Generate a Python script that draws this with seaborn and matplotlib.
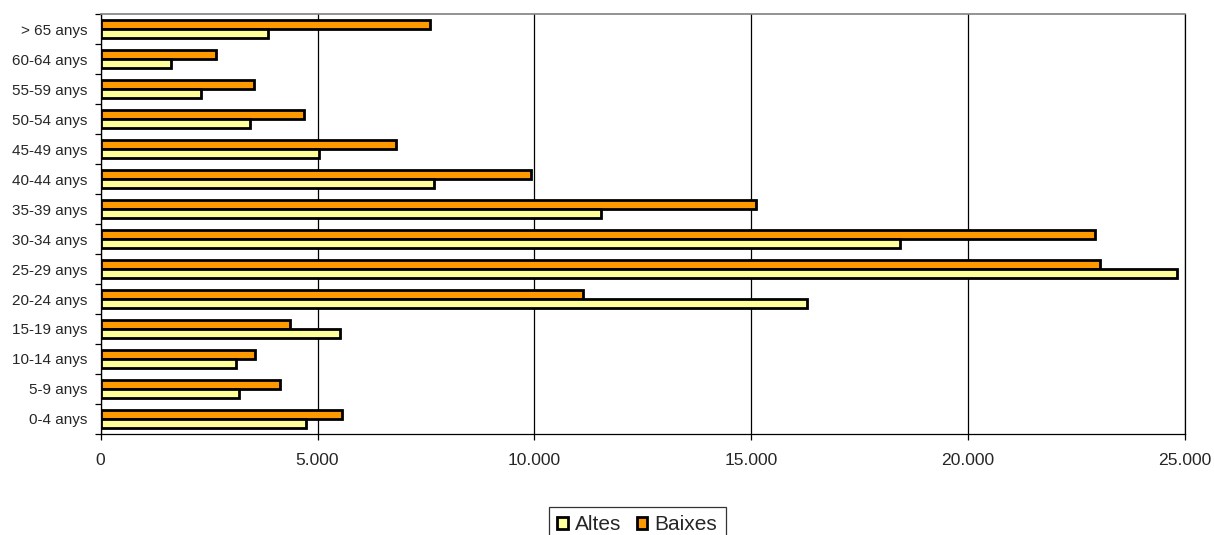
import numpy as np
import matplotlib.pyplot as plt
import pandas as pd
import seaborn as sns
from matplotlib.ticker import FuncFormatter, FixedLocator
from matplotlib.patches import Patch

# Dades
edats = ["> 65 anys", "60-64 anys", "55-59 anys", "50-54 anys", "45-49 anys",
         "40-44 anys", "35-39 anys", "30-34 anys", "25-29 anys", "20-24 anys",
         "15-19 anys", "10-14 anys", "5-9 anys", "0-4 anys"]
altes = [3870, 1620, 2310, 3440, 5040, 7690, 11530, 18440, 24810, 16290,
         5530, 3110, 3200, 4730]
baixes = [7600, 2650, 3540, 4680, 6810, 9930, 15110, 22930, 23040, 11130,
          4370, 3570, 4130, 5560]

df = pd.DataFrame({"Edat": edats * 2,
                   "Valor": baixes + altes,
                   "Tipus": ["Baixes"] * len(edats) + ["Altes"] * len(edats)})

sns.set_style("white")
plt.rcParams['font.family'] = ['Liberation Sans', 'DejaVu Sans']

colors = {"Altes": "#FFFF99", "Baixes": "#FF9900"}

fig = plt.figure(figsize=(12.14, 5.35), dpi=100)
ax = fig.add_axes([0.0829, 0.1888, 0.8932, 0.785])

sns.barplot(data=df, x="Valor", y="Edat", hue="Tipus", order=edats,
            hue_order=["Baixes", "Altes"], palette=colors, orient="h",
            width=0.62, saturation=1, edgecolor="black", linewidth=2,
            ax=ax, legend=False)

ax.set_xlim(0, 25000)
ax.set_ylim(len(edats) - 0.5, -0.5)
ax.set_xticks(np.arange(0, 25001, 5000))
ax.xaxis.set_major_formatter(FuncFormatter(lambda v, p: f"{int(v):,}".replace(",", ".")))
ax.grid(axis="x", color="black", linewidth=0.9)
ax.set_axisbelow(True)
ax.set_xlabel("")
ax.set_ylabel("")

for s in ["left", "bottom", "right"]:
    ax.spines[s].set_color("black")
    ax.spines[s].set_linewidth(0.9)
ax.spines["top"].set_color("#808080")
ax.spines["top"].set_linewidth(1.2)

ax.tick_params(axis="x", direction="out", length=4.5, width=0.9, color="black",
               labelsize=12.6, pad=9.5, bottom=True)
ax.tick_params(axis="y", which="major", length=0, labelsize=11, pad=9.5)
ax.yaxis.set_minor_locator(FixedLocator(np.arange(-0.5, len(edats), 1)))
ax.tick_params(axis="y", which="minor", direction="out", length=4, width=0.9,
               color="black", left=True)

handles = [Patch(facecolor=colors["Altes"], edgecolor="black", linewidth=2, label="Altes"),
           Patch(facecolor=colors["Baixes"], edgecolor="black", linewidth=2, label="Baixes")]
leg = fig.legend(handles=handles, loc="upper center", bbox_to_anchor=(0.525, 1 - 507 / 535),
                 ncol=2, frameon=True, fancybox=False, edgecolor="black", fontsize=15,
                 handlelength=0.5, handleheight=0.5, handletextpad=0.35,
                 columnspacing=0.75, borderpad=0.4, borderaxespad=0)
leg.get_frame().set_linewidth(0.9)

fig.savefig("out.png", dpi=100)
